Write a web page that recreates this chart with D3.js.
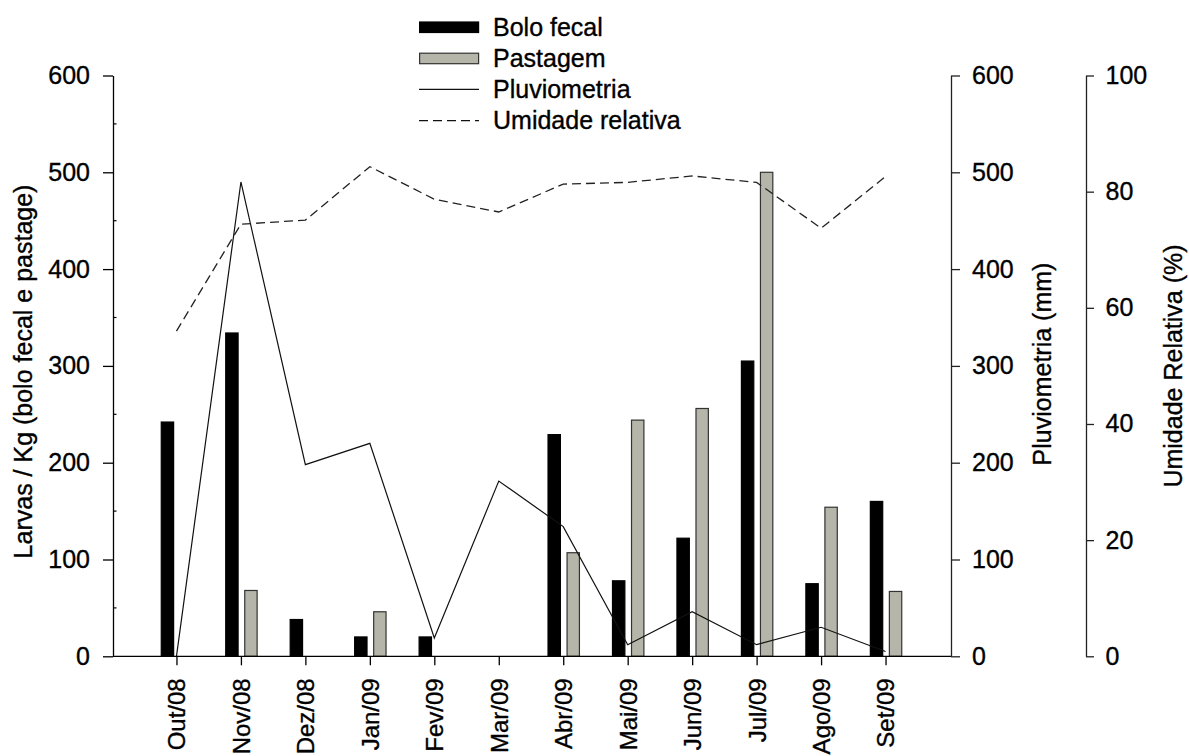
<!DOCTYPE html>
<html>
<head>
<meta charset="utf-8">
<script src="https://cdn.jsdelivr.net/npm/d3@7"></script>
<style>
  html, body { margin: 0; padding: 0; background: #fff; }
  svg { display: block; font-family: "Liberation Sans", Arial, sans-serif; }
  text { fill: #000; stroke: #000; stroke-width: 0.35px; }
</style>
</head>
<body>
<svg id="chart" width="1189" height="756"></svg>
<script>
// Monthly categories
const months = ["Out/08", "Nov/08", "Dez/08", "Jan/09", "Fev/09", "Mar/09",
                "Abr/09", "Mai/09", "Jun/09", "Jul/09", "Ago/09", "Set/09"];

// Larvae per kg (left axis)
const boloFecal = [242, 334, 38, 20, 20, 0, 229, 78, 122, 305, 75, 160];
const pastagem  = [0, 68, 0, 46, 0, 0, 107, 244, 256, 500, 154, 67];

// Rainfall in mm (first right axis)
const pluviometria = [0, 490, 198, 220, 19, 181, 134, 12, 46, 12, 30, 5];

// Relative humidity in % (second right axis)
const umidade = [56, 74.4, 75.1, 84.3, 78.7, 76.5, 81.3, 81.6, 82.7, 81.6, 73.7, 82.6];

// Tick values
const larvasTicks = [0, 100, 200, 300, 400, 500, 600];
const larvasMinor = [50, 150, 250, 350, 450, 550];
const pluvioTicks = [0, 100, 200, 300, 400, 500, 600];
const umidTicks = [0, 20, 40, 60, 80, 100];

const seriesNames = ["Bolo fecal", "Pastagem"];

const svg = d3.select("#chart");
const FS = 25;

const plotLeft = 113, plotRight = 951, plotTop = 75.5, plotBottom = 656.3;
const umidAxisX = 1086;

const x = d3.scalePoint().domain(months).range([112, 950]).padding(1);
const inner = d3.scaleBand().domain(seriesNames).range([-15.2, 16.2]).paddingInner(0.35);
const yL = d3.scaleLinear().domain([0, 600]).range([plotBottom, plotTop]);
const yP = d3.scaleLinear().domain([0, 600]).range([plotBottom, plotTop]);
const yU = d3.scaleLinear().domain([0, 100]).range([plotBottom, plotTop]);

// Bars
const barColor = { "Bolo fecal": "#000", "Pastagem": "#b5b5a9" };
const barData = [];
months.forEach((m, i) => {
  barData.push({ m, s: "Bolo fecal", v: boloFecal[i] });
  barData.push({ m, s: "Pastagem", v: pastagem[i] });
});
svg.append("g").selectAll("rect")
  .data(barData.filter(d => d.v > 0))
  .join("rect")
  .attr("x", d => x(d.m) + inner(d.s))
  .attr("width", inner.bandwidth())
  .attr("y", d => yL(d.v))
  .attr("height", d => yL(0) - yL(d.v))
  .attr("fill", d => barColor[d.s])
  .attr("stroke", d => d.s === "Pastagem" ? "#333" : "#000")
  .attr("stroke-width", 1.2);

// Lines
const pluvioLine = d3.line().x((d, i) => x(months[i])).y(d => yP(d));
const umidLine = d3.line().x((d, i) => x(months[i])).y(d => yU(d));

svg.append("path").datum(pluviometria)
  .attr("d", pluvioLine)
  .attr("fill", "none").attr("stroke", "#111").attr("stroke-width", 1.2);

svg.append("path").datum(umidade)
  .attr("d", umidLine)
  .attr("fill", "none").attr("stroke", "#222").attr("stroke-width", 1.3)
  .attr("stroke-dasharray", "9,5");

// Axes
function styleAxis(g, size) {
  g.selectAll("path, line").attr("stroke", "#000").attr("stroke-width", 1.3);
  g.selectAll("text").style("font-size", (size || FS) + "px").attr("fill", "#000")
    .style("font-family", '"Liberation Sans", Arial, sans-serif');
}

// Left axis
const gL = svg.append("g").attr("transform", `translate(${plotLeft},0)`)
  .call(d3.axisLeft(yL).tickValues(larvasTicks).tickSize(10).tickSizeOuter(0).tickPadding(13));
styleAxis(gL);
gL.selectAll(".minor").data(larvasMinor).join("line")
  .attr("class", "minor")
  .attr("x1", 0).attr("x2", 3.5)
  .attr("y1", d => yL(d)).attr("y2", d => yL(d))
  .attr("stroke", "#000").attr("stroke-width", 1.2);

// Bottom axis
const gB = svg.append("g").attr("transform", `translate(0,${plotBottom})`)
  .call(d3.axisBottom(x).tickSize(9).tickSizeOuter(0));
gB.select(".domain").attr("d", `M${plotLeft},0H${plotRight}`);
styleAxis(gB, 24);
gB.selectAll(".tick text")
  .attr("transform", "rotate(-90)")
  .attr("x", -22).attr("y", 0).attr("dy", "0.35em")
  .attr("text-anchor", "end");

// Rainfall axis
const gP = svg.append("g").attr("transform", `translate(${plotRight},0)`)
  .call(d3.axisRight(yP).tickValues(pluvioTicks).tickSize(9).tickSizeOuter(0).tickPadding(12));
styleAxis(gP);
gP.selectAll("path, line").attr("stroke", "#222");

// Humidity axis
const gU = svg.append("g").attr("transform", `translate(${umidAxisX},0)`)
  .call(d3.axisRight(yU).tickValues(umidTicks).tickSize(8).tickSizeOuter(0).tickPadding(11.5));
styleAxis(gU);
gU.selectAll("path, line").attr("stroke", "#222");

// Axis titles
function vTitle(tx, ty, label) {
  svg.append("text")
    .attr("transform", `translate(${tx},${ty}) rotate(-90)`)
    .attr("text-anchor", "middle")
    .style("font-size", FS + "px")
    .text(label);
}
vTitle(31.5, 371.5, "Larvas / Kg (bolo fecal e pastage)");
vTitle(1050.5, 364, "Pluviometria (mm)");
vTitle(1182, 366, "Umidade Relativa (%)");

// Legend
const legendItems = [
  { label: "Bolo fecal", type: "bar", fill: "#000", stroke: "#000" },
  { label: "Pastagem", type: "bar", fill: "#b5b5a9", stroke: "#333" },
  { label: "Pluviometria", type: "line", dash: null },
  { label: "Umidade relativa", type: "line", dash: "9,5" }
];
const lg = svg.append("g").attr("transform", "translate(419,27)");
legendItems.forEach((d, i) => {
  const row = lg.append("g").attr("transform", `translate(0,${i * 31.2})`);
  if (d.type === "bar") {
    row.append("rect").attr("x", 0.6).attr("y", -5).attr("width", 59).attr("height", 10.5)
      .attr("fill", d.fill).attr("stroke", d.stroke).attr("stroke-width", 1.2);
  } else {
    row.append("line").attr("x1", 0).attr("x2", 60).attr("y1", 0).attr("y2", 0)
      .attr("stroke", "#111").attr("stroke-width", 1.3)
      .attr("stroke-dasharray", d.dash);
  }
  row.append("text").attr("x", 74).attr("y", 8.5)
    .style("font-size", FS + "px").text(d.label);
});
</script>
</body>
</html>
